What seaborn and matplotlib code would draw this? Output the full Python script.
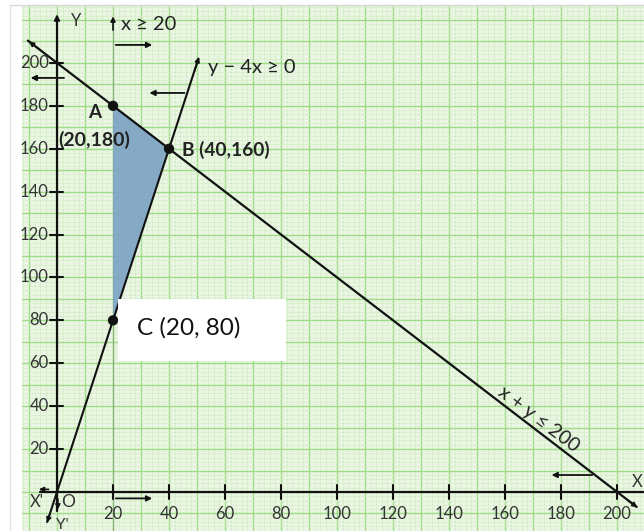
import numpy as np
import pandas as pd
import matplotlib
matplotlib.use("Agg")
import matplotlib.pyplot as plt
from matplotlib.lines import Line2D
from matplotlib.patches import Rectangle
import seaborn as sns

# ---- data ----
region_x = [20, 40, 20]
region_y = [180, 160, 80]
vertex_names = ["A", "B", "C"]

line1_x = [-10.4, 207.0]         # x + y = 200
line1_y = [210.4, -7.0]
line2_x = [-3.5, 50.5]           # y = 4x
line2_y = [-14.0, 202.0]
line3_x = [20, 20]               # x = 20
line3_y = [-18.2, 221.0]

x_ticks = [20, 40, 60, 80, 100, 120, 140, 160, 180, 200]
y_ticks = [20, 40, 60, 80, 100, 120, 140, 160, 180, 200]

sns.set_theme(style="white")
plt.rcParams['font.family'] = ['Lato', 'DejaVu Sans']

fig = plt.figure(figsize=(6.44, 5.31), dpi=100)
fig.patch.set_facecolor("white")
ax = fig.add_axes([22/644, 0, 622/644, 526/531])
xlo, xhi = -12.5, 209.6
ylo, yhi = -18.2, 227.0
ax.set_xlim(xlo, xhi)
ax.set_ylim(ylo, yhi)
ax.set_facecolor("#eaf6e3")
for s in ax.spines.values():
    s.set_visible(False)

# page border lines (scan edges)
fig.add_artist(Line2D([10/644, 1], [526/531, 526/531], color="#d8d8d8", lw=1))
fig.add_artist(Line2D([10/644, 10/644], [0, 526/531], color="#e2e2e2", lw=1))

# graph paper
for gx in np.arange(-12, 210, 2.0):
    major = abs(gx % 10) < 1e-6
    ax.axvline(gx, color="#9edc88" if major else "#d3ecc6",
               lw=1.0 if major else 0.5, zorder=0)
for gy in np.arange(-18, 228, 2.0):
    major = abs(gy % 10) < 1e-6
    ax.axhline(gy, color="#9edc88" if major else "#d3ecc6",
               lw=1.0 if major else 0.5, zorder=0)

# feasible region
ax.fill(region_x, region_y, color="#7ea4c4", alpha=0.92, zorder=2, lw=0)

# axes lines
ax.plot([-6, xhi], [0, 0], color="#111111", lw=1.6, zorder=3)
ax.plot([0, 0], [-9, 221], color="#111111", lw=1.6, zorder=3)
arr = dict(arrowstyle="-|>", color="#111", lw=1.2, mutation_scale=7)
ax.annotate("", xy=(0, 224), xytext=(0, 214), arrowprops=dict(arr, lw=1.4, mutation_scale=8))
ax.annotate("", xy=(-7.5, 1.2), xytext=(-2, 1.2), arrowprops=arr)
ax.annotate("", xy=(0.3, -9.5), xytext=(0.3, -2), arrowprops=arr)

for t in x_ticks:
    ax.plot([t, t], [-3.2, 3.2], color="#111", lw=1.5, zorder=3)
    ax.text(t, -10.2, str(t), ha="center", va="center", fontsize=12, color="#333")
for t in y_ticks:
    ax.plot([-2.6, 2.0], [t, t], color="#111", lw=1.5, zorder=3)
    ax.text(-3.0, t, str(t), ha="right", va="center", fontsize=12, color="#333")

# constraint lines
df1 = pd.DataFrame({"x": line1_x, "y": line1_y})
df2 = pd.DataFrame({"x": line2_x, "y": line2_y})
df3 = pd.DataFrame({"x": line3_x, "y": line3_y})
for d, w in [(df1, 1.6), (df2, 1.5), (df3, 2.0)]:
    sns.lineplot(data=d, x="x", y="y", sort=False, color="#111111", lw=w, ax=ax, zorder=4)

# line end arrows
ax.annotate("", xy=(20, 223), xytext=(20, 214), arrowprops=arr)
ax.annotate("", xy=(20, -18.5), xytext=(20, -11), arrowprops=arr)
ax.annotate("", xy=(51, 204), xytext=(48.8, 195), arrowprops=arr)
ax.annotate("", xy=(-3.9, -15.5), xytext=(-2.2, -8.8), arrowprops=arr)
ax.annotate("", xy=(-10.8, 210.8), xytext=(-5, 205), arrowprops=arr)
ax.annotate("", xy=(208, -8), xytext=(203, -3), arrowprops=arr)

# half-plane arrows
def harrow(x0, x1, y):
    ax.annotate("", xy=(x1, y), xytext=(x0, y),
                arrowprops=dict(arrowstyle="-|>", color="#111", lw=1.3, mutation_scale=8),
                zorder=4)
harrow(20, 35, 208.4)
harrow(20, 35, -3)
harrow(46.5, 32, 186)
harrow(1.0, -13.5, 4.2)
harrow(3.5, -10.4, 193)
harrow(192.1, 175.6, 7.9)

# vertices
pts = pd.DataFrame({"x": region_x, "y": region_y, "n": vertex_names})
sns.scatterplot(data=pts, x="x", y="y", color="#111111", s=55, ax=ax, zorder=6,
                edgecolor="none", legend=False)
ax.set_xlabel(""); ax.set_ylabel("")
ax.set_xticks([]); ax.set_yticks([])

# labels
ax.text(13.6, 176.7, "A", fontsize=13.5, fontweight="bold", ha="center", va="center", color="#222")
ax.text(13.3, 164, "(20,180)", fontsize=14, fontweight="bold", ha="center", va="center", color="#222")
ax.text(44.8, 159.4, "B (40,160)", fontsize=13.8, fontweight="bold", ha="left", va="center", color="#222")
ax.text(22.9, 217.7, "x ≥ 20", fontsize=14.5, ha="left", va="center", color="#222")
ax.text(53.8, 198, "y − 4x ≥ 0", fontsize=14.5, ha="left", va="center", color="#222")
ax.text(6.8, 219.6, "Y", fontsize=12, ha="center", va="center", color="#333")
ax.text(-7.2, -4.7, "X'", fontsize=12, ha="center", va="center", color="#333")
ax.text(3.8, -4.7, "O", fontsize=12.5, ha="center", va="center", color="#333")
ax.text(1.8, -15.4, "Y'", fontsize=11, ha="center", va="center", color="#333")
ax.text(207.2, 4.7, "X", fontsize=12, ha="center", va="center", color="#333")
ax.text(172, 34, "x + y ≤ 200", fontsize=14, rotation=-37, ha="center", va="center",
        rotation_mode="anchor", color="#222")
ax.add_patch(Rectangle((21.9, 61.1), 81.7 - 21.9, 90 - 61.1, facecolor="white",
                       edgecolor="none", zorder=7))
ax.text(28.7, 76.5, "C (20, 80)", fontsize=17.5, ha="left", va="center", color="#111", zorder=8)

fig.savefig("out.png", dpi=100)
